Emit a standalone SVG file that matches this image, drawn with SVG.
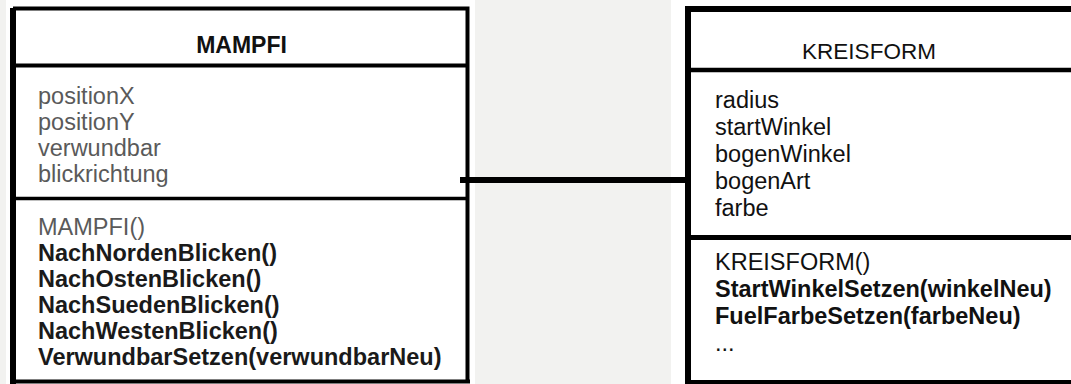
<svg xmlns="http://www.w3.org/2000/svg" width="1071" height="384" viewBox="0 0 1071 384">
  <style>
    .page { fill: #f2f2f0; }
    .panel { fill: #ffffff; }
    .rule { stroke: #000000; fill: none; }
    .t { font-family: "Liberation Sans", Arial, sans-serif; }
    .title { font-size: 23px; font-weight: bold; fill: #111111; text-anchor: middle; }
    .attrL { font-size: 23.5px; fill: #5a5a5a; }
    .opL { font-size: 23.5px; font-weight: bold; fill: #1a1a1a; }
    .titleR { font-size: 22.5px; fill: #111111; text-anchor: middle; }
    .textR { font-size: 23.5px; fill: #111111; }
    .opR { font-size: 23.5px; font-weight: bold; fill: #111111; }
    .link { stroke: #000000; stroke-width: 6; fill: none; }
  </style>

  <!-- page background and the two white panels -->
  <rect class="page" x="0" y="0" width="1071" height="384"/>
  <rect class="panel" x="6" y="0" width="469" height="384"/>
  <rect class="panel" x="671" y="0" width="400" height="384"/>

  <!-- association between the two classes -->
  <g id="connectors">
    <line class="link" x1="460" y1="180" x2="688" y2="180"/>
  </g>

  <!-- class MAMPFI -->
  <g id="mampfi">
    <path class="rule" d="M13 8.5 H467.5 V382" stroke-width="4"/>
    <path class="rule" d="M13 8 V384" stroke-width="6"/>
    <path class="rule" d="M13 381.5 H470" stroke-width="4"/>
    <line class="rule" x1="13" y1="65.5" x2="466" y2="65.5" stroke-width="4"/>
    <line class="rule" x1="13" y1="198.5" x2="466" y2="198.5" stroke-width="3.5"/>
    <text class="t title" x="241.5" y="53">MAMPFI</text>
    <text class="t attrL" x="38" y="104">positionX</text>
    <text class="t attrL" x="38" y="130">positionY</text>
    <text class="t attrL" x="38" y="156">verwundbar</text>
    <text class="t attrL" x="38" y="182">blickrichtung</text>
    <text class="t attrL" x="38" y="235">MAMPFI()</text>
    <text class="t opL" x="38" y="261">NachNordenBlicken()</text>
    <text class="t opL" x="38" y="287">NachOstenBlicken()</text>
    <text class="t opL" x="38" y="313">NachSuedenBlicken()</text>
    <text class="t opL" x="38" y="339">NachWestenBlicken()</text>
    <text class="t opL" x="38" y="365">VerwundbarSetzen(verwundbarNeu)</text>
  </g>

  <!-- class KREISFORM (continues past the right edge) -->
  <g id="kreisform">
    <path class="rule" d="M688 384 V9 H1071" stroke-width="6"/>
    <line class="rule" x1="688" y1="70" x2="1071" y2="70" stroke-width="4.5"/>
    <line class="rule" x1="688" y1="237.5" x2="1071" y2="237.5" stroke-width="5"/>
    <line class="rule" x1="688" y1="382" x2="1071" y2="382" stroke-width="4"/>
    <text class="t titleR" x="869" y="59">KREISFORM</text>
    <text class="t textR" x="715" y="108">radius</text>
    <text class="t textR" x="715" y="135">startWinkel</text>
    <text class="t textR" x="715" y="162">bogenWinkel</text>
    <text class="t textR" x="715" y="189">bogenArt</text>
    <text class="t textR" x="715" y="216">farbe</text>
    <text class="t textR" x="715" y="270">KREISFORM()</text>
    <text class="t opR" x="715" y="297">StartWinkelSetzen(winkelNeu)</text>
    <text class="t opR" x="715" y="324">FuelFarbeSetzen(farbeNeu)</text>
    <text class="t textR" x="715" y="351">...</text>
  </g>
</svg>
